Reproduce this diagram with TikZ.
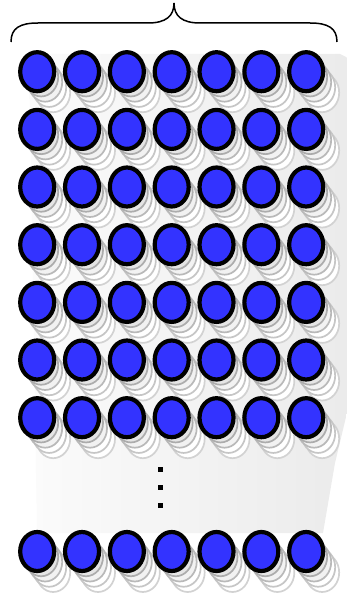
\documentclass[tikz,border=0pt]{standalone}
\usetikzlibrary{shapes.geometric}
\definecolor{neuronblue}{HTML}{3333FF}
\begin{document}
\begin{tikzpicture}[x=1pt,y=-1pt,
  neuron/.style={ellipse,draw=black,fill=neuronblue,line width=4.2pt,minimum width=34pt,minimum height=39pt,inner sep=0pt},
  shadowA/.style={ellipse,draw=gray!65,fill=gray!20,line width=1.7pt,minimum width=34pt,minimum height=39pt,inner sep=0pt},
  shadowB/.style={ellipse,draw=gray!55,fill=gray!10,line width=1.7pt,minimum width=34pt,minimum height=39pt,inner sep=0pt},
  shadowC/.style={ellipse,draw=gray!45,fill=white,line width=1.7pt,minimum width=34pt,minimum height=39pt,inner sep=0pt},
  shadowD/.style={ellipse,draw=gray!35,fill=white,line width=1.7pt,minimum width=34pt,minimum height=39pt,inner sep=0pt},
  dotsq/.style={fill=black,minimum size=5pt,inner sep=0pt},
  bracestyle/.style={draw=black,line width=1.5pt}]
\useasboundingbox (0,0) rectangle (347,599);
% background panel
\path[left color=gray!3,right color=gray!16] (29,54) -- (340,54) -- (352,60) -- (352,392) -- (335,463) -- (323,533) -- (37,533) -- cycle;
% brace
\coordinate (bl) at (11,42);
\coordinate (br) at (337,42);
\coordinate (bt) at (174,3);
\draw[bracestyle] (bl) .. controls (11,28) and (20,23) .. (38,23) -- (148,23) .. controls (166,23) and (174,16) .. (bt)
  .. controls (174,16) and (182,23) .. (200,23) -- (310,23) .. controls (328,23) and (337,28) .. (br);
% neurons
\foreach \r/\y in {1/71.7,2/129.4,3/187.0,4/244.7,5/302.4,6/360.0,7/417.7,8/551.5}{
  \foreach \c in {1,...,7}{
    \pgfmathsetmacro{\xx}{37.2+(\c-1)*44.83}
    \node[shadowD] (sd-\r-\c) at (\xx+16,\y+21) {};
    \node[shadowC] (sc-\r-\c) at (\xx+12,\y+15.75) {};
    \node[shadowB] (sb-\r-\c) at (\xx+8,\y+10.5) {};
    \node[shadowA] (sa-\r-\c) at (\xx+4,\y+5.25) {};
    \node[neuron] (n-\r-\c) at (\xx,\y) {};
  }
}
% vertical dots
\node[dotsq] (d1) at (160,469) {};
\node[dotsq] (d2) at (160,487) {};
\node[dotsq] (d3) at (160,505) {};
\end{tikzpicture}
\end{document}
